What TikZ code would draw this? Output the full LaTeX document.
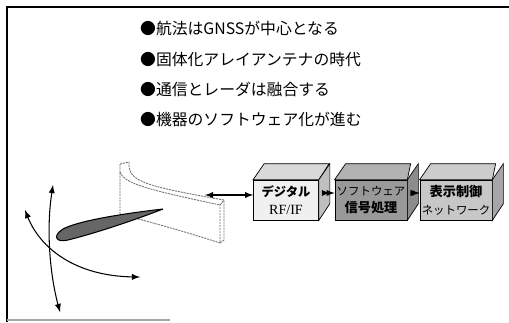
\documentclass[tikz,border=0pt]{standalone}
\usepackage{fontspec}
\setmainfont{Liberation Serif}
\newfontfamily\jp{Noto Sans CJK JP}
\usetikzlibrary{positioning}

\tikzset{
	kasten/.style={draw,minimum width=1.3cm,minimum height=0.8cm,inner sep=1pt,align=center,font=\fontsize{7}{9}\selectfont},
	panellinie/.style={draw=black!55,line width=0.5pt,dash pattern=on 1.2pt off 0.5pt},
	bogen/.style={<->,line width=0.6pt},
}

\begin{document}
\begin{tikzpicture}[x=0.02cm,y=-0.02cm,>=latex]
	\useasboundingbox (0,0) rectangle (509,322);
	\draw[line width=1.2pt] (7,322) -- (7,7) -- (509,7);
	\draw[black!35,line width=0.6pt] (7,320) -- (170,320);

	\node[anchor=west,font=\jp\fontsize{9}{11}\selectfont] (z1) at (134,28) {●航法はGNSSが中心となる};
	\node[anchor=west,font=\jp\fontsize{9}{11}\selectfont] (z2) at (134,59) {●固体化アレイアンテナの時代};
	\node[anchor=west,font=\jp\fontsize{9}{11}\selectfont] (z3) at (134,89) {●通信とレーダは融合する};
	\node[anchor=west,font=\jp\fontsize{9}{11}\selectfont] (z4) at (134,119) {●機器のソフトウェア化が進む};

	% antenna panel
	\draw[panellinie] (120,164) -- (120,214) .. controls (150,222) and (190,233) .. (220,243) -- (220,205);
	\draw[panellinie] (120,164) -- (129,162) -- (129,167) .. controls (131,182) and (150,187) .. (224,200) -- (224,240) -- (220,243);
	\draw[panellinie] (120,172) .. controls (124,184) and (150,190) .. (220,205) -- (224,200);

	% wing
	\draw[fill=black!60,line width=0.6pt] (163,209) .. controls (120,214) and (78,221) .. (63,229) .. controls (52,236) and (56,243) .. (68,240) .. controls (100,232) and (140,218) .. (163,209);

	\draw[bogen] (53,185) .. controls (46,230) and (50,275) .. (60,312);
	\draw[bogen] (25,210) .. controls (40,248) and (75,276) .. (140,277);

	\node[kasten,fill=black!6] (rf) at (286,200) {{\jp\bfseries デジタル}\\[1pt]{\fontsize{8}{9}\selectfont RF/IF}};
	\draw[fill=black!15] (rf.north west) -- ++(11,-16) -- ++(65,0) -- (rf.north east) -- cycle;
	\draw[fill=black!25] (rf.north east) -- ++(11,-16) -- ++(0,40) -- (rf.south east) -- cycle;

	\node[kasten,fill=black!40] (sw) at (371,200) {{\jp\fontsize{6.5}{8}\selectfont ソフトウェア}\\[1pt]{\jp\bfseries\fontsize{7.5}{9}\selectfont 信号処理}};
	\draw[fill=black!30] (sw.north west) -- ++(11,-16) -- ++(65,0) -- (sw.north east) -- cycle;
	\draw[fill=black!45] (sw.north east) -- ++(11,-16) -- ++(0,40) -- (sw.south east) -- cycle;

	\node[kasten,fill=black!22] (nw) at (456,200) {{\jp\bfseries\fontsize{7.5}{9}\selectfont 表示制御}\\[1pt]{\jp\fontsize{6.5}{8}\selectfont ネットワーク}};
	\draw[fill=black!20] (nw.north west) -- ++(11,-16) -- ++(65,0) -- (nw.north east) -- cycle;
	\draw[fill=black!35] (nw.north east) -- ++(11,-16) -- ++(0,40) -- (nw.south east) -- cycle;

	\coordinate (ant) at (205,195);
	\draw[<->,line width=0.6pt] (ant) -- (rf.west |- ant);
	\draw[<->,line width=0.6pt] ([xshift=0.22cm,yshift=0.14cm]rf.east) -- ([yshift=0.14cm]sw.west);
	\draw[<->,line width=0.6pt] ([xshift=0.22cm,yshift=0.14cm]sw.east) -- ([yshift=0.14cm]nw.west);
\end{tikzpicture}
\end{document}
